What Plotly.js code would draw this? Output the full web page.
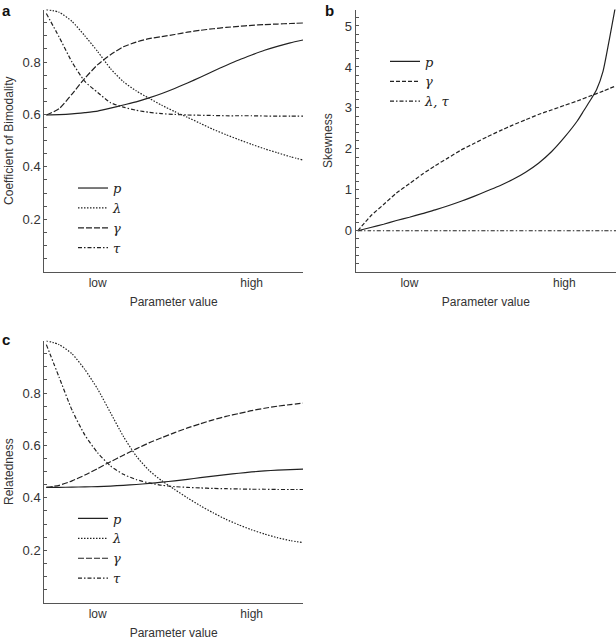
<!DOCTYPE html>
<html><head><meta charset="utf-8">
<script src="https://cdn.plot.ly/plotly-3.0.1.min.js"></script>
<style>html,body{margin:0;padding:0;background:#fff}#chart{width:616px;height:641px}</style>
</head><body><div id="chart"></div>
<script>
// shared parameter grid (0 = low end, 1 = high end)
const xGrid = [0,0.05,0.1,0.15,0.2,0.25,0.3,0.35,0.4,0.45,0.5,0.55,0.6,0.65,0.7,0.75,0.8,0.85,0.9,0.95,1];
const xTickVals = [0.2, 0.8];
const xTickText = ['low', 'high'];

// Panel a: Coefficient of Bimodality
const aP      = [0.598,0.599,0.602,0.607,0.613,0.624,0.636,0.648,0.663,0.680,0.699,0.720,0.742,0.765,0.787,0.808,0.827,0.845,0.860,0.873,0.884];
const aLambda = [1.0,0.99,0.955,0.9,0.84,0.775,0.725,0.69,0.662,0.635,0.611,0.589,0.566,0.543,0.523,0.504,0.486,0.469,0.454,0.439,0.426];
const aGamma  = [0.598,0.622,0.678,0.738,0.79,0.828,0.858,0.876,0.889,0.897,0.905,0.914,0.921,0.927,0.932,0.936,0.94,0.943,0.945,0.947,0.949];
const aTau    = [0.985,0.895,0.80,0.726,0.684,0.645,0.628,0.616,0.608,0.603,0.600,0.598,0.597,0.596,0.595,0.595,0.595,0.594,0.594,0.594,0.594];

// Panel b: Skewness
const bXp     = [0,0.05,0.1,0.15,0.2,0.25,0.3,0.35,0.4,0.45,0.5,0.55,0.6,0.65,0.7,0.75,0.8,0.85,0.875,0.9,0.925,0.95,0.975,1];
const bP      = [0,0.08,0.16,0.25,0.33,0.42,0.51,0.61,0.72,0.84,0.97,1.1,1.25,1.43,1.65,1.93,2.28,2.68,2.93,3.18,3.45,3.9,4.7,5.55];
const bGamma  = [0,0.36,0.64,0.92,1.15,1.38,1.59,1.78,1.97,2.13,2.29,2.44,2.58,2.71,2.84,2.95,3.06,3.17,3.29,3.41,3.54];
const bLamTau = [0,0,0,0,0,0,0,0,0,0,0,0,0,0,0,0,0,0,0,0,0];

// Panel c: Relatedness
const cP      = [0.44,0.44,0.441,0.442,0.443,0.445,0.448,0.451,0.455,0.46,0.465,0.471,0.477,0.483,0.489,0.494,0.499,0.503,0.506,0.508,0.51];
const cLambda = [1.0,0.985,0.95,0.89,0.815,0.725,0.635,0.56,0.505,0.465,0.432,0.40,0.37,0.343,0.318,0.297,0.278,0.262,0.248,0.237,0.229];
const cGamma  = [0.44,0.448,0.465,0.487,0.512,0.538,0.563,0.587,0.61,0.63,0.649,0.667,0.683,0.698,0.711,0.722,0.733,0.742,0.75,0.756,0.762];
const cTau    = [0.985,0.86,0.735,0.64,0.572,0.522,0.49,0.47,0.457,0.448,0.443,0.44,0.438,0.436,0.435,0.434,0.433,0.433,0.432,0.432,0.432];

const INK = '#222';
const W = 1.2;
const DASH = {p: 'solid', lambda: '1.5px,1.5px', gamma: '6px,2px', tau: '4px,2px,1.5px,2px', gammaB: '4px,2px'};

function tr(x, y, name, dash, xa, ya, lg) {
  return {x: x, y: y, name: name, type: 'scatter', mode: 'lines',
    line: {color: INK, width: W, dash: dash, shape: 'spline', smoothing: 0.6},
    xaxis: xa, yaxis: ya, legend: lg, hoverinfo: 'skip'};
}

const data = [
  tr(xGrid, aP, 'p', DASH.p, 'x', 'y', 'legend'),
  tr(xGrid, aLambda, 'λ', DASH.lambda, 'x', 'y', 'legend'),
  tr(xGrid, aGamma, 'γ', DASH.gamma, 'x', 'y', 'legend'),
  tr(xGrid, aTau, 'τ', DASH.tau, 'x', 'y', 'legend'),
  tr(bXp, bP, 'p', DASH.p, 'x2', 'y2', 'legend2'),
  tr(xGrid, bGamma, 'γ', DASH.gammaB, 'x2', 'y2', 'legend2'),
  tr(xGrid, bLamTau, 'λ, τ', DASH.tau, 'x2', 'y2', 'legend2'),
  tr(xGrid, cP, 'p', DASH.p, 'x3', 'y3', 'legend3'),
  tr(xGrid, cLambda, 'λ', DASH.lambda, 'x3', 'y3', 'legend3'),
  tr(xGrid, cGamma, 'γ', DASH.gamma, 'x3', 'y3', 'legend3'),
  tr(xGrid, cTau, 'τ', DASH.tau, 'x3', 'y3', 'legend3')
];

const FONT = {family: "'Liberation Sans', Arial, sans-serif", size: 12, color: '#333'};
const TICKFONT = {family: "'Liberation Sans', Arial, sans-serif", size: 13, color: '#333'};
const AXC = '#555';

function xAxis(domain, anchor) {
  return {domain: domain, anchor: anchor, range: [-0.008, 1], showline: true, linecolor: AXC, linewidth: 1,
    showgrid: false, zeroline: false, ticks: '', tickmode: 'array', tickvals: xTickVals, ticktext: xTickText,
    tickfont: FONT, title: {text: 'Parameter value', font: FONT, standoff: 8}, fixedrange: true};
}
function yAxis(domain, anchor, range, tickvals, minorDtick, title, standoff) {
  return {domain: domain, anchor: anchor, range: range, showline: true, linecolor: AXC, linewidth: 1,
    showgrid: false, zeroline: false, ticks: 'inside', ticklen: 3, tickcolor: AXC, tickwidth: 1,
    tickmode: 'array', tickvals: tickvals, tickfont: TICKFONT,
    minor: {ticks: 'inside', ticklen: 3, tickcolor: AXC, tickwidth: 1, tickmode: 'linear', tick0: 0, dtick: minorDtick, showgrid: false},
    title: {text: title, font: FONT, standoff: standoff}, fixedrange: true};
}

const legendFont = {family: "'DejaVu Serif', serif", size: 13, color: '#222', style: 'italic'};
function leg(x, y) {
  return {x: x, y: y, xanchor: 'left', yanchor: 'top', bgcolor: 'rgba(0,0,0,0)', borderwidth: 0,
    font: legendFont, tracegroupgap: 0, itemclick: false, itemdoubleclick: false};
}

const PANEL_FONT = {family: "'Liberation Sans', Arial, sans-serif", size: 15, color: '#111'};

const layout = {
  width: 616, height: 641,
  margin: {l: 0, r: 0, t: 0, b: 0},
  paper_bgcolor: '#fff', plot_bgcolor: '#fff',
  font: FONT,
  showlegend: true,
  xaxis:  xAxis([0.0719, 0.4919], 'y'),
  yaxis:  yAxis([0.5761, 0.985], 'x', [0, 1.0], [0.2, 0.4, 0.6, 0.8], 0.05, 'Coefficient of Bimodality', 6),
  xaxis2: xAxis([0.5774, 1.0], 'y2'),
  yaxis2: yAxis([0.5761, 0.985], 'x2', [-1, 5.4], [0, 1, 2, 3, 4, 5], 0.2, 'Skewness', 9),
  xaxis3: xAxis([0.0719, 0.4919], 'y3'),
  yaxis3: yAxis([0.0598, 0.4685], 'x3', [0, 1.0], [0.2, 0.4, 0.6, 0.8], 0.05, 'Relatedness', 6),
  legend:  leg(0.1185, 0.730),
  legend2: leg(0.625, 0.9275),
  legend3: leg(0.1185, 0.2145),
  annotations: [
    {text: '<b>a</b>', x: 0, y: 1, xref: 'paper', yref: 'paper', xanchor: 'left', yanchor: 'top', showarrow: false, font: PANEL_FONT},
    {text: '<b>b</b>', x: 323/616, y: 1, xref: 'paper', yref: 'paper', xanchor: 'left', yanchor: 'top', showarrow: false, font: PANEL_FONT},
    {text: '<b>c</b>', x: 0, y: 1 - 329/641, xref: 'paper', yref: 'paper', xanchor: 'left', yanchor: 'top', showarrow: false, font: PANEL_FONT}
  ]
};

Plotly.newPlot('chart', data, layout, {staticPlot: true, displayModeBar: false});
</script></body></html>
